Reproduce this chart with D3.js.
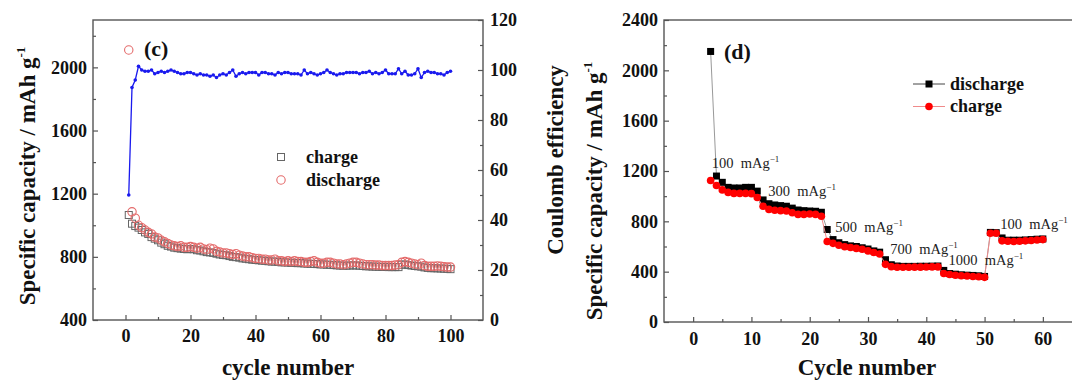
<!DOCTYPE html>
<html>
<head>
<meta charset="utf-8">
<script src="https://cdn.jsdelivr.net/npm/d3@7"></script>
<style>
  body { margin: 0; background: #fff; }
  svg { display: block; }
</style>
</head>
<body>
<div id="chart"></div>
<script>
const W = 1072, H = 383;
const SERIF = '"Liberation Serif"';

// ---- panel (c): 100 cycles ----
const cyclesC = d3.range(1, 101);
const dischargeC = [2110, 1085, 1045, 1000, 985, 970, 955, 945, 925, 920,
  905, 895, 885, 875, 870, 865, 870, 860, 860, 865,
  860, 855, 860, 850, 845, 855, 850, 835, 830, 825,
  825, 820, 815, 820, 810, 805, 800, 800, 795, 790,
  790, 785, 785, 780, 780, 785, 775, 775, 770, 775,
  770, 775, 770, 770, 765, 765, 770, 775, 765, 760,
  760, 765, 765, 760, 755, 755, 750, 755, 760, 765,
  765, 760, 755, 750, 750, 750, 748, 748, 745, 745,
  745, 745, 748, 750, 765, 770, 765, 760, 755, 750,
  760, 745, 740, 740, 740, 742, 740, 738, 735, 735];
const chargeC = [1065, 1010, 995, 985, 970, 955, 945, 925, 915, 905,
  890, 880, 870, 865, 858, 855, 852, 850, 848, 850,
  848, 842, 840, 835, 830, 828, 825, 820, 815, 812,
  810, 805, 800, 798, 795, 790, 788, 785, 782, 780,
  778, 776, 775, 772, 770, 770, 768, 765, 765, 764,
  762, 762, 760, 760, 758, 757, 756, 755, 754, 752,
  752, 750, 750, 748, 746, 745, 744, 744, 745, 746,
  745, 744, 742, 740, 740, 738, 738, 737, 736, 736,
  735, 735, 735, 735, 750, 752, 748, 745, 742, 740,
  738, 733, 730, 728, 728, 727, 726, 725, 724, 722];
const coulombC = [50, 93, 96, 101.5, 100, 99.5, 99.5, 100, 98.5, 99,
  99.5, 99, 99.5, 100, 99.5, 99, 98.5, 98.5, 99, 99,
  98.5, 98, 98.5, 98, 98, 97.5, 98, 97, 98, 98.5,
  98, 99, 100, 97.5, 98.5, 99, 98.5, 99, 99, 99,
  98, 99, 99, 98.5, 98.5, 98, 99, 98.5, 99, 99,
  98.5, 98.5, 98.5, 98, 100, 98.5, 99, 98.5, 98, 98.5,
  99, 100, 99, 98.5, 98, 98.5, 98.5, 99, 99, 99,
  99, 98.5, 99, 99, 99.5, 98.5, 99, 98.5, 99, 100,
  98.5, 98.5, 98.5, 100.5, 98.5, 99.5, 98, 98, 98.5, 100.5,
  97, 99, 99.5, 99, 99, 98.5, 98.5, 98, 99, 99.5];

// ---- panel (d): rate test ----
const cyclesD = d3.range(3, 61);
const dischargeD = [2150, 1160, 1110, 1070, 1065, 1065, 1070, 1070, 1040, 970,
  940, 930, 925, 920, 905, 890, 885, 882, 880, 872,
  735, 655, 630, 615, 605, 600, 590, 580, 565, 555,
  495, 455, 445, 442, 442, 442, 443, 443, 444, 445,
  410, 385, 380, 375, 372, 370, 367, 362, 712, 710,
  668, 650, 650, 650, 652, 655, 658, 660];
const chargeD = [1125, 1085, 1050, 1030, 1022, 1022, 1022, 1020, 990, 920,
  895, 888, 885, 882, 868, 855, 855, 858, 855, 840,
  640, 625, 610, 598, 592, 585, 578, 565, 552, 540,
  458, 440, 435, 435, 435, 436, 436, 437, 438, 438,
  385, 378, 372, 368, 365, 362, 360, 355, 705, 705,
  645, 642, 640, 642, 645, 648, 652, 655];

// current-density notes (anchored in data units: cycle, capacity)
const noteLabels = ["100", "300", "500", "700", "1000", "100"];
const noteCycle = [3.2, 12.9, 24.4, 33.8, 43.8, 52.7];
const noteCap = [1224, 1001, 715, 540, 453, 739];

const svg = d3.select("#chart").append("svg")
  .attr("width", W).attr("height", H);

// helper: inward major + minor ticks
function addAxis(g, axisFn, scale, major, minor, pad) {
  g.append("g").call(axisFn(scale).tickValues(minor).tickSize(-3).tickFormat(""))
    .call(s => s.select(".domain").remove());
  g.append("g").call(axisFn(scale).tickValues(major).tickSize(-5).tickPadding(pad).tickFormat(d3.format("d")))
    .call(s => s.select(".domain").remove());
}

function title(g, str, size) {
  return g.append("text").style("font-weight", "bold").style("font-size", (size || 23) + "px")
    .attr("fill", "#111").text(str);
}
function legendText(g, x, y, str) {
  g.append("text").attr("x", x).attr("y", y).style("font-weight", "bold")
    .style("font-size", "18px").attr("fill", "#111").text(str);
}

// ================= panel (c) =================
const xC = d3.scaleLinear().domain([-10, 110]).range([93, 483]);
const yC = d3.scaleLinear().domain([400, 2300]).range([320, 20]);
const yCE = d3.scaleLinear().domain([0, 120]).range([320, 20]);

const pc = svg.append("g");

addAxis(pc.append("g").attr("transform", "translate(0,320)"), d3.axisBottom, xC,
  [0, 20, 40, 60, 80, 100], [10, 30, 50, 70, 90], 9);
addAxis(pc.append("g").attr("transform", "translate(93,0)"), d3.axisLeft, yC,
  [400, 800, 1200, 1600, 2000], [600, 1000, 1400, 1800, 2200], 6);
addAxis(pc.append("g").attr("transform", "translate(483,0)"), d3.axisRight, yCE,
  [0, 20, 40, 60, 80, 100, 120], [10, 30, 50, 70, 90, 110], 7);

pc.append("rect").attr("x", 93).attr("y", 20).attr("width", 390).attr("height", 300)
  .attr("fill", "none").attr("stroke", "#555").attr("stroke-width", 1.4);

// charge squares (hollow)
pc.append("g").selectAll("rect").data(cyclesC).join("rect")
  .attr("x", d => xC(d) - 3.5).attr("y", (d, i) => yC(chargeC[i]) - 3.5)
  .attr("width", 7).attr("height", 7)
  .attr("fill", "none").attr("stroke", "#666").attr("stroke-width", 1);

// discharge circles (hollow)
pc.append("g").selectAll("circle").data(cyclesC).join("circle")
  .attr("cx", d => xC(d)).attr("cy", (d, i) => yC(dischargeC[i])).attr("r", 4.2)
  .attr("fill", "none").attr("stroke", "#e46a6a").attr("stroke-width", 1.1);

// coulomb efficiency
pc.append("path").datum(cyclesC)
  .attr("fill", "none").attr("stroke", "#1a1aee").attr("stroke-width", 1.3)
  .attr("d", d3.line().x(d => xC(d)).y((d, i) => yCE(coulombC[i])));
pc.append("g").selectAll("circle").data(cyclesC).join("circle")
  .attr("cx", d => xC(d)).attr("cy", (d, i) => yCE(coulombC[i])).attr("r", 1.8)
  .attr("fill", "#1a1aee");

title(pc, "(c)", 22).attr("x", 144).attr("y", 56);

// legend
pc.append("rect").attr("x", 277.5).attr("y", 153.5).attr("width", 7).attr("height", 7)
  .attr("fill", "none").attr("stroke", "#666");
legendText(pc, 306, 163, "charge");
pc.append("circle").attr("cx", 281).attr("cy", 180).attr("r", 4.2)
  .attr("fill", "none").attr("stroke", "#e46a6a").attr("stroke-width", 1.1);
legendText(pc, 306, 186, "discharge");

// axis titles
title(pc, "cycle number").attr("text-anchor", "middle").attr("x", 288).attr("y", 375);
const tl = title(pc, null).attr("text-anchor", "middle")
  .attr("transform", "translate(35,176) rotate(-90)");
tl.append("tspan").text("Specific capacity / mAh g");
tl.append("tspan").attr("dy", -10).style("font-size", "13px").text("-1");
title(pc, "Coulomb efficiency").attr("text-anchor", "middle")
  .attr("transform", "translate(563,160) rotate(-90)");

// ================= panel (d) =================
const xD = d3.scaleLinear().domain([-5, 65]).range([664, 1072]);
const yD = d3.scaleLinear().domain([0, 2400]).range([322, 20]);

const pd = svg.append("g");

addAxis(pd.append("g").attr("transform", "translate(0,322)"), d3.axisBottom, xD,
  [0, 10, 20, 30, 40, 50, 60], [5, 15, 25, 35, 45, 55], 10);
addAxis(pd.append("g").attr("transform", "translate(664,0)"), d3.axisLeft, yD,
  [0, 400, 800, 1200, 1600, 2000, 2400], [200, 600, 1000, 1400, 1800, 2200], 6);

pd.append("rect").attr("x", 664).attr("y", 20).attr("width", 420).attr("height", 302)
  .attr("fill", "none").attr("stroke", "#555").attr("stroke-width", 1.4);

const lineD = arr => d3.line().x(d => xD(d)).y((d, i) => yD(arr[i]));

pd.append("path").datum(cyclesD).attr("fill", "none")
  .attr("stroke", "#999").attr("stroke-width", 1).attr("d", lineD(dischargeD));
pd.append("g").selectAll("rect").data(cyclesD).join("rect")
  .attr("x", d => xD(d) - 3.5).attr("y", (d, i) => yD(dischargeD[i]) - 3.5)
  .attr("width", 7).attr("height", 7).attr("fill", "#000");

pd.append("path").datum(cyclesD).attr("fill", "none")
  .attr("stroke", "#f08a8a").attr("stroke-width", 1).attr("d", lineD(chargeD));
pd.append("g").selectAll("circle").data(cyclesD).join("circle")
  .attr("cx", d => xD(d)).attr("cy", (d, i) => yD(chargeD[i])).attr("r", 3.8)
  .attr("fill", "#f00");

// notes
noteLabels.forEach((lab, i) => {
  const t = pd.append("text").style("font-size", "14.5px").style("white-space", "pre")
    .attr("fill", "#222")
    .attr("x", xD(noteCycle[i])).attr("y", yD(noteCap[i]));
  t.append("tspan").text(lab + "  mAg");
  t.append("tspan").attr("dy", -6).style("font-size", "9px").text("\u22121");
});

title(pd, "(d)", 22).attr("x", 724).attr("y", 59);

// legend
pd.append("line").attr("x1", 913).attr("x2", 945).attr("y1", 84).attr("y2", 84)
  .attr("stroke", "#444").attr("stroke-width", 1);
pd.append("rect").attr("x", 925.5).attr("y", 80.5).attr("width", 7).attr("height", 7).attr("fill", "#000");
legendText(pd, 950, 90, "discharge");
pd.append("line").attr("x1", 913).attr("x2", 945).attr("y1", 106.5).attr("y2", 106.5)
  .attr("stroke", "#f08a8a").attr("stroke-width", 1);
pd.append("circle").attr("cx", 929).attr("cy", 106.5).attr("r", 3.8).attr("fill", "#f00");
legendText(pd, 950, 112, "charge");

title(pd, "Cycle number").attr("text-anchor", "middle").attr("x", 867).attr("y", 375);
const tr = title(pd, null).attr("text-anchor", "middle")
  .attr("transform", "translate(602,191) rotate(-90)");
tr.append("tspan").text("Specific capacity / mAh g");
tr.append("tspan").attr("dy", -10).style("font-size", "13px").text("-1");

// tick labels + font for every text
svg.selectAll(".tick text").style("font-weight", "bold").style("font-size", "18px").attr("fill", "#111");
svg.selectAll(".tick line").attr("stroke", "#555").attr("stroke-width", 1.2);
svg.selectAll("text").style("font-family", SERIF);
</script>
</body>
</html>
